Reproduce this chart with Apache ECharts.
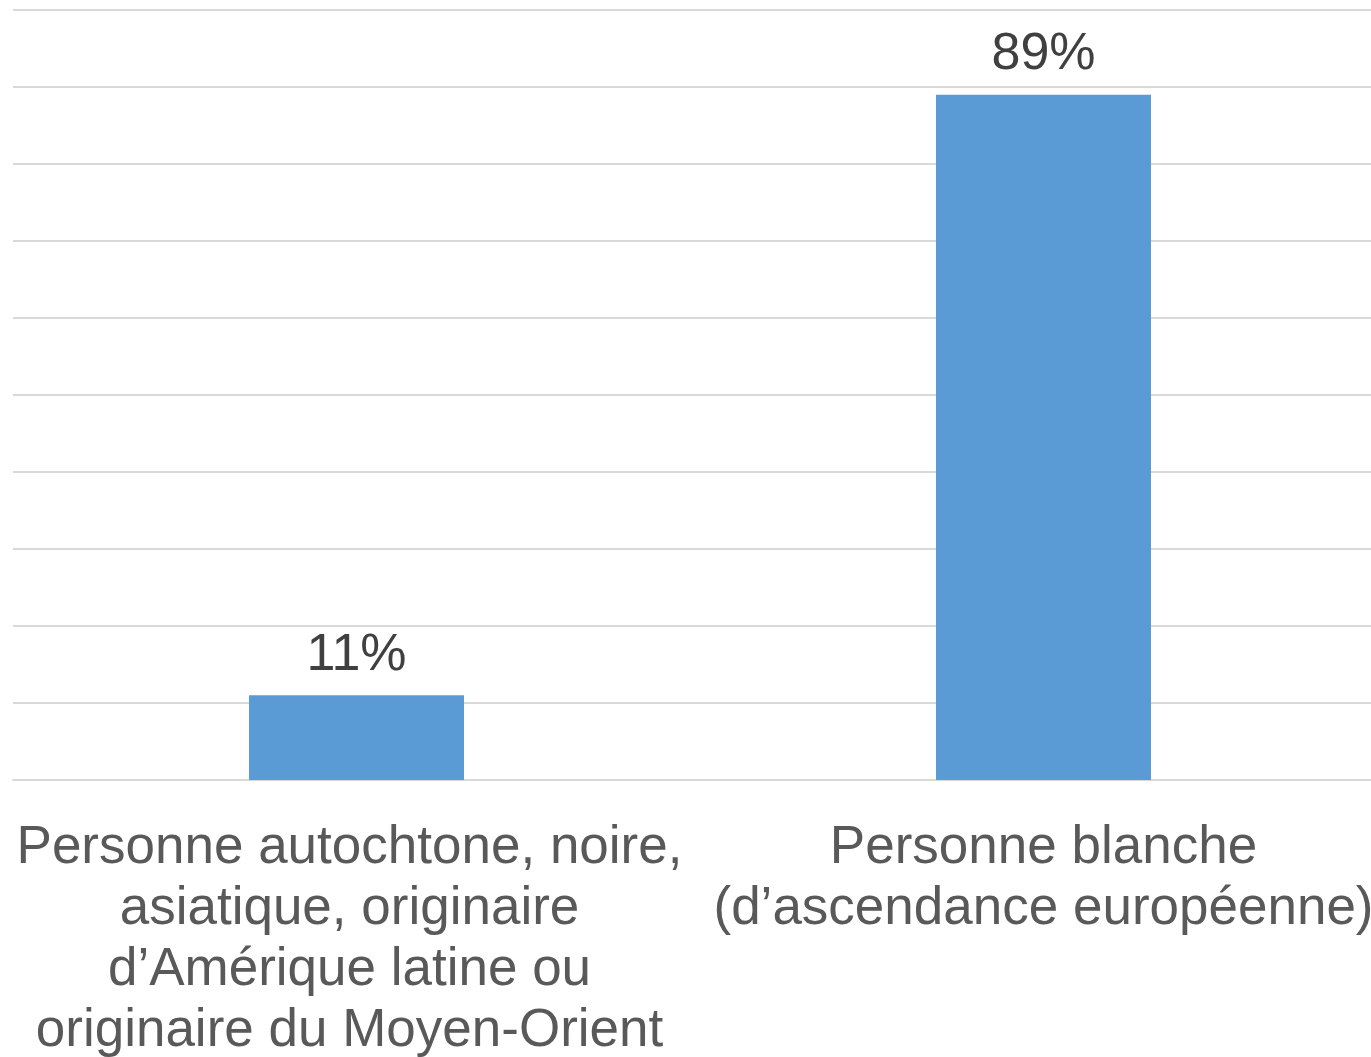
<!DOCTYPE html>
<html>
<head>
<meta charset="utf-8">
<script src="https://cdn.jsdelivr.net/npm/echarts@6/dist/echarts.min.js"></script>
<style>html,body{margin:0;padding:0;background:#fff;}#c{width:1371px;height:1057px;}</style>
</head>
<body>
<div id="c"></div>
<script>
const categories = [
  "Personne autochtone, noire,\nasiatique, originaire\nd\u2019Am\u00e9rique latine ou\noriginaire du Moyen-Orient",
  "Personne blanche\n(d\u2019ascendance europ\u00e9enne)"
];
const values = [11, 89];

const labelPads = [[0, 14, 0, 0], [0, 0, 0, 0]];

const chart = echarts.init(document.getElementById('c'), null, {renderer: 'canvas'});
chart.setOption({
  animation: false,
  backgroundColor: '#ffffff',
  grid: {left: 13, right: -16, top: 10, bottom: 277, containLabel: false, outerBoundsMode: 'none'},
  xAxis: {
    type: 'category',
    data: categories.map((c, i) => ({value: c, textStyle: {padding: labelPads[i]}})),
    axisLine: {show: true, lineStyle: {color: '#d9d9d9', width: 2}},
    axisTick: {show: false},
    axisLabel: {
      interval: 0,
      margin: 38,
      color: '#595959',
      fontFamily: 'Liberation Sans, Arial, sans-serif',
      fontSize: 53,
      lineHeight: 61
    }
  },
  yAxis: {
    type: 'value',
    min: 0, max: 100, interval: 10,
    axisLabel: {show: false},
    axisLine: {show: false},
    axisTick: {show: false},
    splitLine: {show: true, lineStyle: {color: '#d9d9d9', width: 2}}
  },
  series: [{
    type: 'bar',
    data: values,
    barWidth: 215,
    itemStyle: {color: '#5b9bd5'},
    label: {
      show: true,
      position: 'top',
      distance: 14,
      formatter: '{c}%',
      color: '#404040',
      fontFamily: 'Liberation Sans, Arial, sans-serif',
      fontSize: 52
    }
  }]
});
</script>
</body>
</html>
